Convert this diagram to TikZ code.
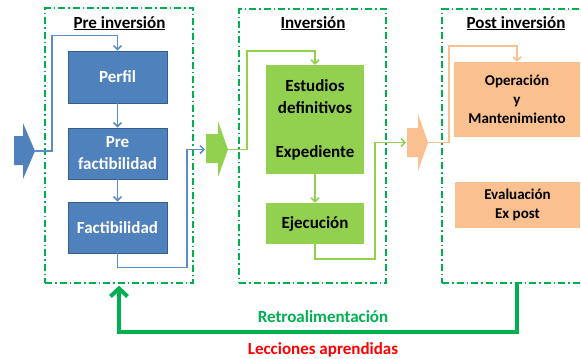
\documentclass[tikz,border=0pt]{standalone}
\usepackage{fontspec}
\setmainfont{Carlito}
\usetikzlibrary{arrows.meta}
\definecolor{blueF}{HTML}{4F81BD}
\definecolor{blueD}{HTML}{385D8A}
\definecolor{blueL}{HTML}{5B8BC9}
\definecolor{greenF}{HTML}{92D050}
\definecolor{orangeF}{HTML}{FAC090}
\definecolor{frameG}{HTML}{00B050}
\tikzset{
  frame/.style={draw=frameG, line width=1.4bp, dash pattern=on 7bp off 3bp on 1.5bp off 3bp, inner sep=0pt},
  ttl/.style={font=\bfseries\fontsize{17bp}{20bp}\selectfont, anchor=base, inner sep=0pt},
  bbox/.style={fill=blueF, draw=blueD, line width=0.8bp, text=white, inner sep=0pt, align=center,
    minimum width=99bp, font=\bfseries\fontsize{17bp}{22bp}\selectfont},
  gbox/.style={fill=greenF, inner sep=0pt, align=center, text=black,
    minimum width=98bp, font=\bfseries\fontsize{17bp}{22bp}\selectfont},
  obox/.style={fill=orangeF, inner sep=0pt, align=center, text=black,
    font=\bfseries\fontsize{15bp}{19bp}\selectfont},
  tip/.style={-{Straight Barb[length=4bp,width=8bp]}},
  bl/.style={draw=blueL, line width=1.5bp},
  gl/.style={draw=greenF, line width=1.5bp},
  ol/.style={draw=orangeF, line width=1.5bp},
  fb/.style={draw=frameG, line width=4bp, -{Straight Barb[length=8bp,width=17bp]}},
}
\begin{document}
\begin{tikzpicture}[x=1bp,y=-1bp]
\clip (0,0) rectangle (581,358);
% frames
\node[frame, minimum width=148bp, minimum height=275bp] (f1) at (119,145.5) {};
\node[frame, minimum width=147bp, minimum height=274bp] (f2) at (312.5,146) {};
\node[frame, minimum width=178bp, minimum height=274bp] (f3) at (531,146) {};
% titles
\node[ttl] (t1) at (119.5,28) {\underline{Pre inversión}};
\node[ttl] (t2) at (313,28) {\underline{Inversión}};
\node[ttl] (t3) at (516,28) {\underline{Post inversión}};
% big arrows
\fill[blueF] (14,136) -- (23,136) -- (23,123) -- (35,151) -- (23,179) -- (23,165) -- (14,165) -- cycle;
\coordinate (btip) at (35,151);
\fill[greenF] (206,134) -- (218,134) -- (218,121) -- (228,149.5) -- (218,177) -- (218,163) -- (206,163) -- cycle;
\coordinate (gin) at (205,149.5);
\coordinate (gtip) at (228,149.5);
\fill[orangeF] (407,128) -- (418,128) -- (418,114) -- (428,142.5) -- (418,171) -- (418,157) -- (407,157) -- cycle;
\coordinate (oin) at (406,142.5);
\coordinate (otip) at (428,142.5);
% boxes
\node[bbox, minimum height=52bp] (perfil) at (117.5,77) {Perfil};
\node[bbox, minimum height=51bp] (pref) at (117.5,153.5) {Pre\\factibilidad};
\node[bbox, minimum height=51bp] (fact) at (117.5,227.5) {Factibilidad};
\node[gbox, minimum height=109bp] (est) at (315,119.5) {Estudios\\definitivos\\[22bp]Expediente};
\node[gbox, minimum height=41bp] (ejec) at (315,223.5) {Ejecución};
\node[obox, minimum width=126bp, minimum height=75bp] (opI) at (517,99.5) {Operación\\y\\Mantenimiento};
\node[obox, minimum width=125bp, minimum height=46bp] (eval) at (517.5,205) {Evaluación\\Ex post};
% blue connectors
\draw[bl,tip] (btip) -- ++(17,0) |- ([yshift=15bp]perfil.north) -- (perfil.north);
\draw[bl,tip] (perfil) -- (pref);
\draw[bl,tip] (pref) -- (fact);
\draw[bl,tip] (fact.south) -- ++(0,14) -| ([xshift=-18bp]gin) -- (gin);
% green connectors
\draw[gl,tip] (gtip) -- ++(19,0) |- ([yshift=14bp]est.north) -- (est.north);
\draw[gl,tip] (est) -- (ejec);
\draw[gl,tip] (ejec.south) -- ++(0,15) -| ([xshift=-31bp]oin) -- (oin);
% orange connector
\draw[ol,tip] (otip) -- ++(21,0) |- ([yshift=16bp]opI.north) -- (opI.north);
% feedback
\draw[fb] (opI |- f3.south) -- ++(0,48) -| ([yshift=-2bp]f1.south);
\node[font=\bfseries\fontsize{17bp}{20bp}\selectfont, text=frameG, inner sep=0pt] (retro) at (323,317) {Retroalimentación};
\node[font=\bfseries\fontsize{17bp}{20bp}\selectfont, text=red, inner sep=0pt, anchor=base] (lecc) at (323,354) {Lecciones aprendidas};
\end{tikzpicture}
\end{document}
